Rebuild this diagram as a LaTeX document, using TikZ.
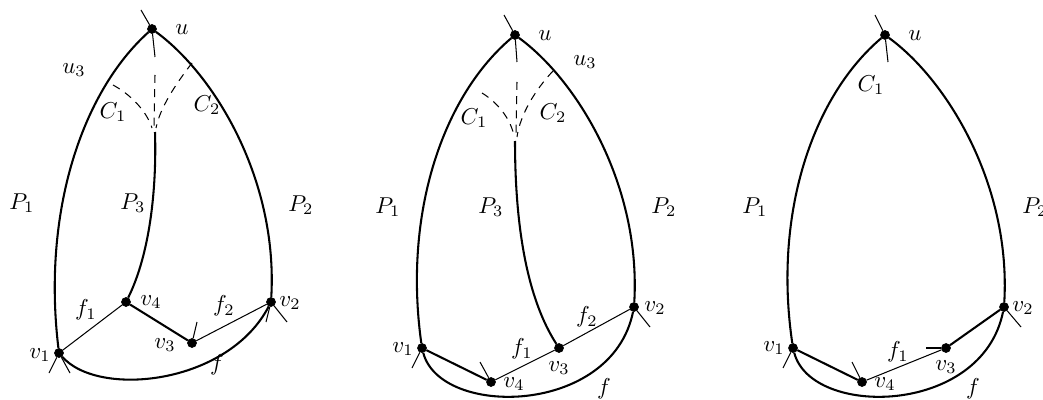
\documentclass[tikz,border=0pt]{standalone}
\usetikzlibrary{calc}
\tikzset{
	vtx/.style={circle, fill=black, draw=black, inner sep=0pt, minimum size=3.8pt},
	bold/.style={line width=0.9pt},
	plain/.style={line width=0.45pt},
	stub/.style={line width=0.45pt},
	ghost/.style={line width=0.45pt, dash pattern=on 3.4pt off 2.8pt},
	lbl/.style={inner sep=0pt, font=\normalsize},
}

\begin{document}
\begin{tikzpicture}[x=0.0153cm, y=-0.0153cm]
	\useasboundingbox (0,0) rectangle (1043,400);
	% left picture
	\node[vtx] (ua) at (152,29) {};
	\node[vtx] (v1a) at (59,353) {};
	\node[vtx] (v2a) at (271,302) {};
	\node[vtx] (v3a) at (192,343) {};
	\node[vtx] (v4a) at (126,302) {};
	\coordinate (p3a) at (155,132);
	\coordinate (sua) at (141,10);
	\coordinate (dua) at (155,57);
	\coordinate (mta) at (155,75);
	\coordinate (mba) at (154,127);
	\coordinate (c1a) at (113,85);
	\coordinate (c1ea) at (152,128);
	\coordinate (c2a) at (192,63);
	\coordinate (c2ea) at (156,128);
	\coordinate (s1a) at (49,373);
	\coordinate (s1ba) at (70,373);
	\coordinate (s2a) at (266,322);
	\coordinate (s2ba) at (287,322);
	\coordinate (s3a) at (197,322);
	\draw[bold] (ua) .. controls (82,92) and (42,212) .. (v1a);
	\draw[bold] (ua) .. controls (215,75) and (278,180) .. (v2a);
	\draw[bold] (v1a) .. controls (98,398) and (228,385) .. (v2a);
	\draw[bold] (p3a) .. controls (157,200) and (147,260) .. (v4a);
	\draw[bold] (v4a) -- (v3a);
	\draw[plain] (v1a) -- (v4a);
	\draw[plain] (v3a) -- (v2a);
	\draw[ghost] (c1a) .. controls (135,97) and (148,115) .. (c1ea);
	\draw[ghost] (c2a) .. controls (175,85) and (160,108) .. (c2ea);
	\draw[ghost] (mta) -- (mba);
	\draw[stub] (ua) -- (sua);
	\draw[stub] (ua) -- (dua);
	\draw[stub] (v1a) -- (s1a);
	\draw[stub] (v1a) -- (s1ba);
	\draw[stub] (v2a) -- (s2a);
	\draw[stub] (v2a) -- (s2ba);
	\draw[stub] (v3a) -- (s3a);
	\node[lbl] (lua) at (182,30) {$u$};
	\node[lbl] (lu3a) at (74,70) {$u_3$};
	\node[lbl] (lc1a) at (113,112) {$C_1$};
	\node[lbl] (lc2a) at (207,105) {$C_2$};
	\node[lbl] (lp1a) at (22,203) {$P_1$};
	\node[lbl] (lp3a) at (133,203) {$P_3$};
	\node[lbl] (lp2a) at (301,205) {$P_2$};
	\node[lbl] (lf1a) at (86,310) {$f_1$};
	\node[lbl] (lf2a) at (224,306) {$f_2$};
	\node[lbl] (lv4a) at (151,302) {$v_4$};
	\node[lbl] (lv3a) at (165,345) {$v_3$};
	\node[lbl] (lv1a) at (40,355) {$v_1$};
	\node[lbl] (lv2a) at (290,303) {$v_2$};
	\node[lbl] (lfa) at (217,365) {$f$};
	% middle picture
	\node[vtx] (ub) at (515,35) {};
	\node[vtx] (v1b) at (422,348) {};
	\node[vtx] (v2b) at (634,307) {};
	\node[vtx] (v3b) at (559,348) {};
	\node[vtx] (v4b) at (491,382) {};
	\coordinate (p3b) at (515,141);
	\coordinate (sub) at (504,15);
	\coordinate (dub) at (517,62);
	\coordinate (mtb) at (517,82);
	\coordinate (mbb) at (516,134);
	\coordinate (c1b) at (482,93);
	\coordinate (c1eb) at (514,137);
	\coordinate (c2b) at (553,71);
	\coordinate (c2eb) at (517,137);
	\coordinate (s1b) at (412,368);
	\coordinate (s4b) at (480,362);
	\coordinate (s2b) at (650,327);
	\draw[bold] (ub) .. controls (443,96) and (403,213) .. (v1b);
	\draw[bold] (ub) .. controls (578,81) and (641,186) .. (v2b);
	\draw[bold] (v1b) .. controls (440,418) and (612,416) .. (v2b);
	\draw[bold] (p3b) .. controls (515,230) and (528,300) .. (v3b);
	\draw[bold] (v1b) -- (v4b);
	\draw[plain] (v4b) -- (v3b);
	\draw[plain] (v3b) -- (v2b);
	\draw[ghost] (c1b) .. controls (500,104) and (512,122) .. (c1eb);
	\draw[ghost] (c2b) .. controls (535,90) and (520,115) .. (c2eb);
	\draw[ghost] (mtb) -- (mbb);
	\draw[stub] (ub) -- (sub);
	\draw[stub] (ub) -- (dub);
	\draw[stub] (v1b) -- (s1b);
	\draw[stub] (v4b) -- (s4b);
	\draw[stub] (v2b) -- (s2b);
	\node[lbl] (lub) at (545,36) {$u$};
	\node[lbl] (lu3b) at (585,62) {$u_3$};
	\node[lbl] (lc1b) at (474,118) {$C_1$};
	\node[lbl] (lc2b) at (553,113) {$C_2$};
	\node[lbl] (lp1b) at (388,207) {$P_1$};
	\node[lbl] (lp3b) at (491,207) {$P_3$};
	\node[lbl] (lp2b) at (664,207) {$P_2$};
	\node[lbl] (lv1b) at (403,349) {$v_1$};
	\node[lbl] (lf1b) at (522,349) {$f_1$};
	\node[lbl] (lv3b) at (559,368) {$v_3$};
	\node[lbl] (lf2b) at (587,317) {$f_2$};
	\node[lbl] (lv2b) at (655,308) {$v_2$};
	\node[lbl] (lv4b) at (514,384) {$v_4$};
	\node[lbl] (lfb) at (604,389) {$f$};
	% right picture
	\node[vtx] (uc) at (885,35) {};
	\node[vtx] (v1c) at (793,348) {};
	\node[vtx] (v2c) at (1004,307) {};
	\node[vtx] (v3c) at (946,348) {};
	\node[vtx] (v4c) at (862,382) {};
	\coordinate (suc) at (875,15);
	\coordinate (duc) at (888,62);
	\coordinate (s1c) at (783,368);
	\coordinate (s4c) at (852,362);
	\coordinate (s3c) at (926,348);
	\coordinate (s2c) at (1021,327);
	\draw[bold] (uc) .. controls (813,96) and (773,213) .. (v1c);
	\draw[bold] (uc) .. controls (948,81) and (1011,186) .. (v2c);
	\draw[bold] (v1c) .. controls (811,418) and (982,416) .. (v2c);
	\draw[bold] (v1c) -- (v4c);
	\draw[plain] (v4c) -- (v3c);
	\draw[bold] (v3c) -- (v2c);
	\draw[stub] (uc) -- (suc);
	\draw[stub] (uc) -- (duc);
	\draw[stub] (v1c) -- (s1c);
	\draw[stub] (v4c) -- (s4c);
	\draw[stub] (v3c) -- (s3c);
	\draw[stub] (v2c) -- (s2c);
	\node[lbl] (luc) at (915,36) {$u$};
	\node[lbl] (lc1c) at (871,85) {$C_1$};
	\node[lbl] (lp1c) at (755,207) {$P_1$};
	\node[lbl] (lp2c) at (1035,207) {$P_2$};
	\node[lbl] (lv1c) at (774,348) {$v_1$};
	\node[lbl] (lf1c) at (898,352) {$f_1$};
	\node[lbl] (lv3c) at (946,367) {$v_3$};
	\node[lbl] (lv4c) at (885,384) {$v_4$};
	\node[lbl] (lv2c) at (1023,308) {$v_2$};
	\node[lbl] (lfc) at (973,389) {$f$};
\end{tikzpicture}
\end{document}
